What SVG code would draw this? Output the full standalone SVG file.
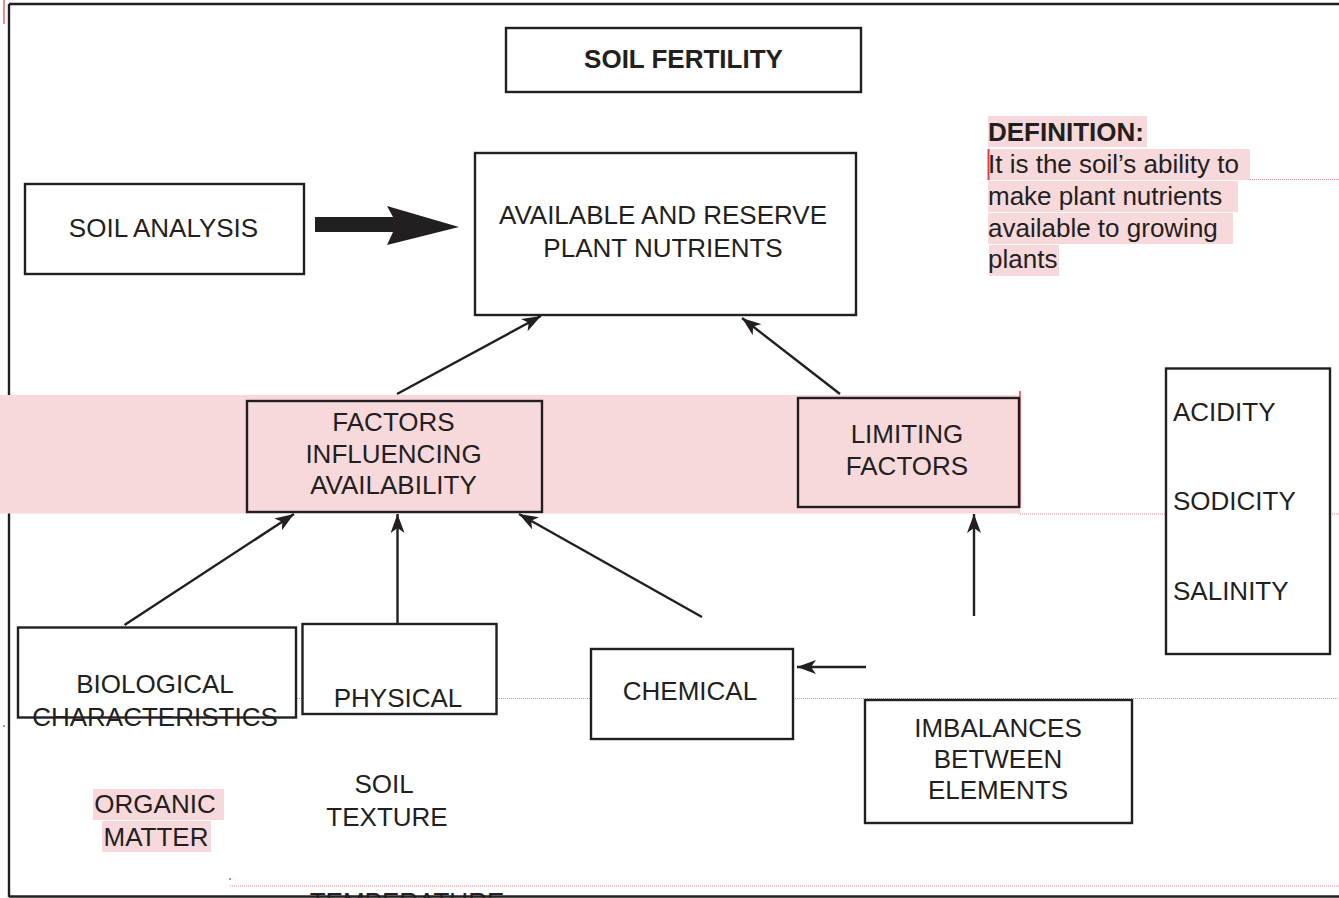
<svg xmlns="http://www.w3.org/2000/svg" width="1339" height="898" viewBox="0 0 1339 898">
<style>
.t{font-family:"Liberation Sans",Arial,sans-serif;font-size:26px;fill:#231f20}
.m{text-anchor:middle}
.b{font-weight:bold}
.box{fill:#ffffff;stroke:#231f20;stroke-width:2.4}
.pbox{fill:#f7d9dc;stroke:#231f20;stroke-width:2.4}
.hl{fill:#f7d9dc}
.dot{stroke:#e58c93;stroke-width:1;stroke-dasharray:1 1;fill:none}
.red{stroke:#e0404a;fill:none}
.con{stroke:#231f20;stroke-width:2.4;fill:none;marker-end:url(#ah)}
</style>
<defs>
<marker id="ah" markerUnits="userSpaceOnUse" markerWidth="20" markerHeight="14" refX="19" refY="7" orient="auto">
<path d="M0,0 L19,7 L0,14 L5,7 z" fill="#231f20"/>
</marker>
</defs>
<rect x="0" y="0" width="1339" height="898" fill="#ffffff"/>
<g id="frame">
<path d="M9,4 H1339 M9,4 V897 M9,896.5 H1339" stroke="#231f20" stroke-width="2.4" fill="none"/>
<line x1="4" y1="0" x2="4" y2="24" class="red" stroke-width="1.2"/>
<circle cx="4" cy="726" r="0.9" fill="#e0404a"/>
<circle cx="230" cy="879" r="0.9" fill="#e0404a"/>
</g>
<g id="band">
<rect x="0" y="395" width="1020" height="118.5" class="hl"/>
<line x1="1020" y1="391" x2="1020" y2="508" class="red" stroke-width="1.5"/>
</g>
<g id="guides">
<line x1="1250" y1="179.5" x2="1339" y2="179.5" class="dot"/>
<line x1="1020" y1="514" x2="1339" y2="514" class="dot"/>
<line x1="19" y1="698.5" x2="1339" y2="698.5" class="dot"/>
<line x1="230" y1="886" x2="1339" y2="886" class="dot"/>
<line x1="19" y1="668" x2="19" y2="698" class="red" stroke-width="1.2"/>
</g>
<g id="connectors">
<polygon points="315,217 393,217 387,206 459,227 387,245 393,232 315,232" fill="#231f20"/>
<line x1="397" y1="394" x2="541" y2="316" class="con"/>
<line x1="840" y1="394" x2="742" y2="318" class="con"/>
<line x1="124.5" y1="625" x2="294" y2="514" class="con"/>
<line x1="397.5" y1="624" x2="397.5" y2="514" class="con"/>
<line x1="702" y1="617" x2="519" y2="514" class="con"/>
<line x1="974" y1="616" x2="974" y2="514" class="con"/>
<line x1="866" y1="667" x2="797" y2="667" class="con"/>
</g>
<g id="soil-fertility">
<rect x="506" y="28" width="355" height="64" class="box"/>
<text x="683.5" y="68" class="t m b">SOIL FERTILITY</text>
</g>
<g id="soil-analysis">
<rect x="25" y="184" width="279" height="90" class="box"/>
<text x="163.5" y="237" class="t m">SOIL ANALYSIS</text>
</g>
<g id="available">
<rect x="475" y="153" width="381" height="162" class="box"/>
<text x="663" y="224" class="t m">AVAILABLE AND RESERVE</text>
<text x="663" y="257" class="t m">PLANT NUTRIENTS</text>
</g>
<g id="definition">
<rect x="988" y="116" width="159" height="31" class="hl"/>
<rect x="988" y="149" width="262" height="31" class="hl"/>
<rect x="988" y="181" width="250" height="31" class="hl"/>
<rect x="988" y="213" width="245" height="31" class="hl"/>
<rect x="989" y="245" width="70" height="31" class="hl"/>
<line x1="988.5" y1="149" x2="988.5" y2="180" class="red" stroke-width="2"/>
<text x="988" y="141" class="t b">DEFINITION:</text>
<text x="988" y="173" class="t">It is the soil’s ability to</text>
<text x="988" y="205" class="t">make plant nutrients</text>
<text x="988" y="237" class="t">available to growing</text>
<text x="988" y="268" class="t">plants</text>
</g>
<g id="factors">
<rect x="247" y="401" width="295" height="111" class="pbox"/>
<text x="393.5" y="431" class="t m">FACTORS</text>
<text x="393.5" y="463" class="t m">INFLUENCING</text>
<text x="393.5" y="494" class="t m">AVAILABILITY</text>
</g>
<g id="limiting">
<rect x="798" y="398" width="221" height="109" class="pbox"/>
<text x="907" y="443" class="t m">LIMITING</text>
<text x="907" y="475" class="t m">FACTORS</text>
</g>
<g id="conditions">
<rect x="1166" y="368.5" width="164" height="285.5" class="box"/>
<text x="1173" y="421" class="t">ACIDITY</text>
<text x="1173" y="510" class="t">SODICITY</text>
<text x="1173" y="600" class="t">SALINITY</text>
</g>
<g id="biological">
<rect x="18" y="627.5" width="278" height="90" class="box"/>
<text x="155" y="693" class="t m">BIOLOGICAL</text>
<text x="155" y="726" class="t m">CHARACTERISTICS</text>
</g>
<g id="physical">
<rect x="302.5" y="624" width="194" height="90" class="box"/>
<text x="398" y="707" class="t m">PHYSICAL</text>
</g>
<g id="chemical">
<rect x="591" y="649" width="202" height="90" class="box"/>
<text x="690" y="700" class="t m">CHEMICAL</text>
</g>
<g id="imbalances">
<rect x="865" y="700" width="267" height="123" class="box"/>
<text x="998" y="737" class="t m">IMBALANCES</text>
<text x="998" y="768" class="t m">BETWEEN</text>
<text x="998" y="799" class="t m">ELEMENTS</text>
</g>
<g id="organic-matter">
<rect x="93" y="789" width="131" height="31" class="hl"/>
<rect x="102" y="821" width="109" height="31" class="hl"/>
<text x="155" y="813" class="t m">ORGANIC</text>
<text x="156" y="846" class="t m">MATTER</text>
</g>
<g id="soil-texture">
<text x="384" y="793" class="t m">SOIL</text>
<text x="387" y="826" class="t m">TEXTURE</text>
</g>
<g id="temperature">
<text x="407" y="911" class="t m">TEMPERATURE</text>
</g>
</svg>
